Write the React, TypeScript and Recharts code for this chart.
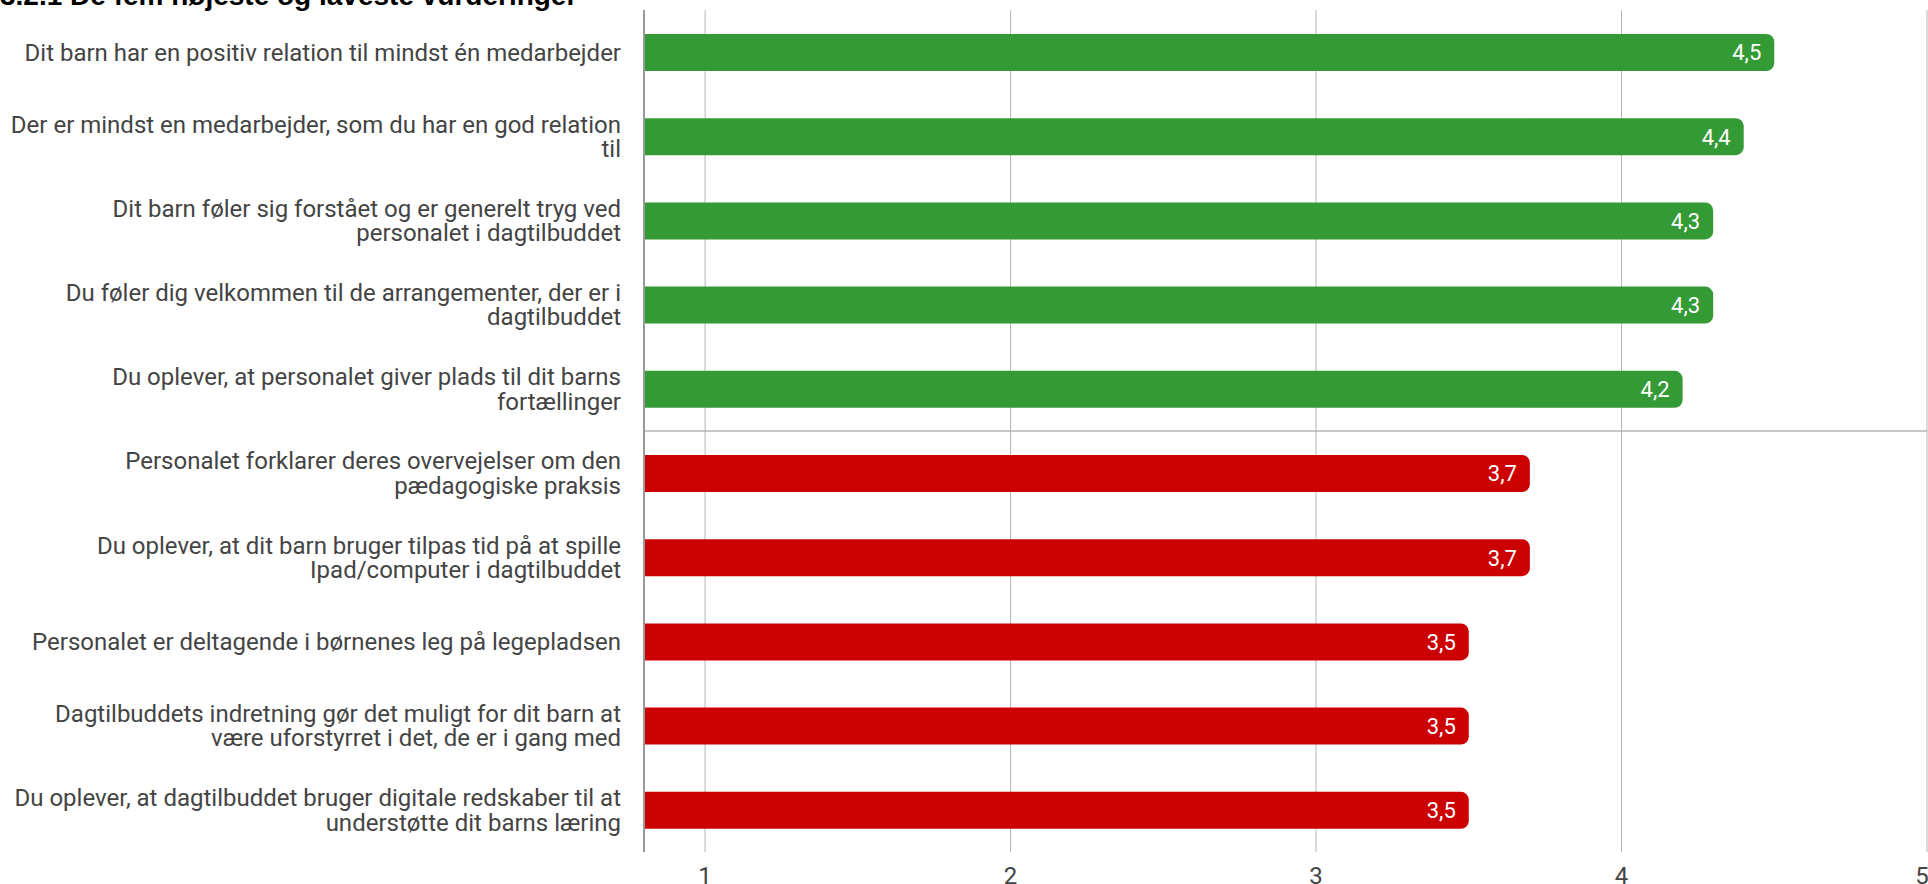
import {
  BarChart,
  Bar,
  XAxis,
  YAxis,
  CartesianGrid,
  Cell,
  LabelList,
  ReferenceLine,
} from 'recharts';

// statements, line breaks as in the original chart
const statements = [
  'Dit barn har en positiv relation til mindst én medarbejder',
  'Der er mindst en medarbejder, som du har en god relation\ntil',
  'Dit barn føler sig forstået og er generelt tryg ved\npersonalet i dagtilbuddet',
  'Du føler dig velkommen til de arrangementer, der er i\ndagtilbuddet',
  'Du oplever, at personalet giver plads til dit barns\nfortællinger',
  'Personalet forklarer deres overvejelser om den\npædagogiske praksis',
  'Du oplever, at dit barn bruger tilpas tid på at spille\nIpad/computer i dagtilbuddet',
  'Personalet er deltagende i børnenes leg på legepladsen',
  'Dagtilbuddets indretning gør det muligt for dit barn at\nvære uforstyrret i det, de er i gang med',
  'Du oplever, at dagtilbuddet bruger digitale redskaber til at\nunderstøtte dit barns læring',
];

const scores = [4.5, 4.4, 4.3, 4.3, 4.2, 3.7, 3.7, 3.5, 3.5, 3.5];

// 'high' = de fem højeste, 'low' = de fem laveste
const groups = ['high', 'high', 'high', 'high', 'high', 'low', 'low', 'low', 'low', 'low'];

const xTicks = [1, 2, 3, 4, 5];

// the divider sits between row 5 and row 6 (0-based positions 4 and 5)
const dividerAt = 4.5;

const groupColor: Record<string, string> = {
  high: '#349a35',
  low: '#cc0000',
};

const data = statements.map((name, i) => ({
  name,
  score: scores[i],
  group: groups[i],
  pos: i,
}));

const CategoryTick = (props: any) => {
  const { x, y, payload } = props;
  const lines = String(payload.value).split('\n');
  const lineHeight = 24.5;
  const startDy = -((lines.length - 1) * lineHeight) / 2 + 8.5;
  return (
    <text x={x} y={y} textAnchor="end" fill="#444444" fontSize={24} fontFamily="Roboto">
      {lines.map((line, i) => (
        <tspan key={i} x={x} dy={i === 0 ? startDy : lineHeight}>
          {line}
        </tspan>
      ))}
    </text>
  );
};

const App = () => {
  return (
    <div
      style={{
        position: 'absolute',
        top: 0,
        left: 0,
        width: 1928,
        height: 884,
        overflow: 'hidden',
        background: '#fff',
      }}
    >
      <div
        style={{
          position: 'absolute',
          top: -18,
          left: 0,
          fontFamily: '"Liberation Sans", Arial, sans-serif',
          fontWeight: 'bold',
          fontSize: 28,
          lineHeight: '28px',
          color: '#000',
          whiteSpace: 'nowrap',
        }}
      >
        3.2.1 De fem højeste og laveste vurderinger
      </div>
      <BarChart
        width={1928}
        height={884}
        data={data}
        layout="vertical"
        margin={{ top: 10, right: 1, left: 0, bottom: 0 }}
        barCategoryGap={0}
        style={{ position: 'absolute', top: 0, left: 0 }}
      >
        <CartesianGrid horizontal={false} stroke="#b5b5b5" strokeWidth={1} />
        <XAxis
          type="number"
          domain={[0.8, 5]}
          ticks={xTicks}
          allowDataOverflow
          height={32}
          tickSize={0}
          tickMargin={15}
          axisLine={false}
          tickLine={false}
          tick={{ fill: '#444444', fontSize: 24, fontFamily: 'Roboto' }}
        />
        <YAxis
          type="category"
          dataKey="name"
          width={644}
          tickSize={0}
          tickMargin={23}
          tickLine={false}
          axisLine={{ stroke: '#999999', strokeWidth: 2 }}
          tick={<CategoryTick />}
          interval={0}
        />
        <YAxis
          yAxisId="split"
          type="number"
          dataKey="pos"
          domain={[-0.5, 9.5]}
          allowDataOverflow
          reversed
          hide
        />
        <ReferenceLine yAxisId="split" y={dividerAt} stroke="#b5b5b5" strokeWidth={1.5} />
        <Bar
          dataKey="score"
          barSize={37}
          radius={[0, 8, 8, 0]}
          isAnimationActive={false}
        >
          {data.map((d, i) => (
            <Cell key={i} fill={groupColor[d.group]} />
          ))}
          <LabelList
            dataKey="score"
            position="insideRight"
            offset={13}
            fill="#ffffff"
            fontSize={22}
            fontFamily="Roboto"
            formatter={(v: any) => String(v).replace('.', ',')}
          />
        </Bar>
      </BarChart>
    </div>
  );
};

export default App;
